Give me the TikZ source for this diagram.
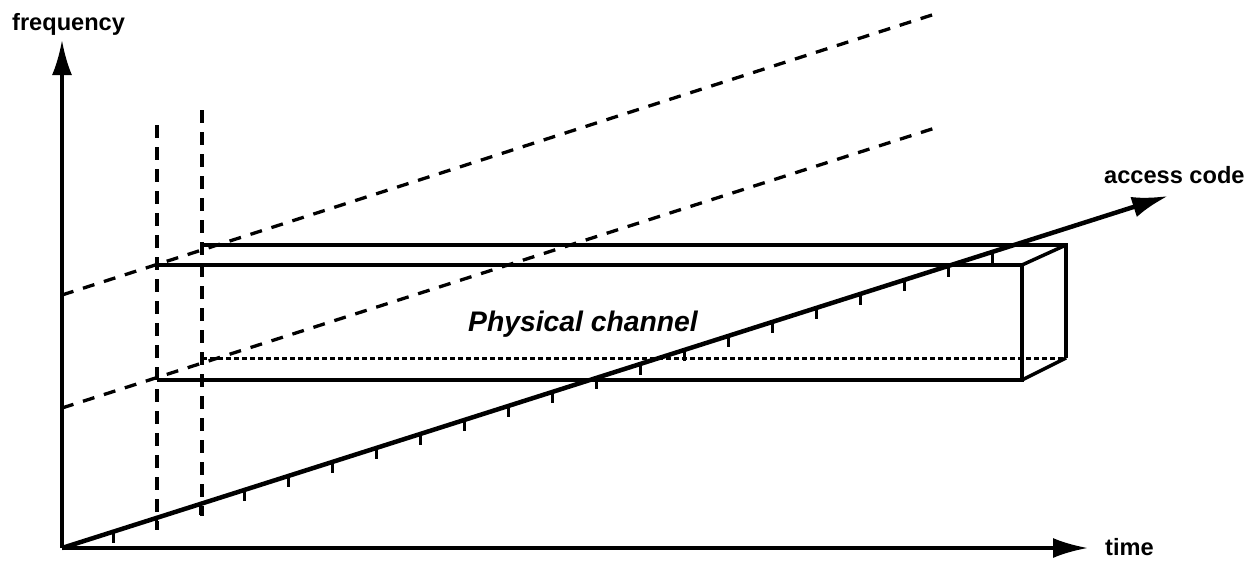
\documentclass[tikz,border=0pt]{standalone}
\usepackage{fontspec}
\setmainfont{Liberation Sans}
\usetikzlibrary{arrows.meta}
\begin{document}
\begin{tikzpicture}[x=1pt,y=-1pt,
  axis/.style={line width=3.5pt,-{Latex[length=35pt,width=20pt]}},
  codeaxis/.style={line width=4.5pt,-{Latex[length=36pt,width=21pt]}},
  boxline/.style={line width=3.5pt,line join=miter},
  hidden/.style={line width=3pt,dash pattern=on 5pt off 3pt},
  guide/.style={line width=3.3pt,dash pattern=on 12pt off 10pt},
  vguide/.style={line width=3.3pt,dash pattern=on 13pt off 9pt},
  tick/.style={line width=3pt},
  lbl/.style={inner sep=0pt,anchor=base west,font=\fontsize{23.6}{24}\selectfont\bfseries}]
\useasboundingbox (0,0) rectangle (1254,565);
% axes points
\coordinate (O) at (62,548);
\coordinate (F) at (62,40);
\coordinate (T) at (1088,548);
\coordinate (A) at (1168,196);
% guide lines
\coordinate (g1s) at (62,295);
\coordinate (g1e) at (935,14);
\coordinate (g2s) at (62,408);
\coordinate (g2e) at (935,128);
\coordinate (v1s) at (157,125);
\coordinate (v1e) at (157,530);
\coordinate (v2s) at (202,110);
\coordinate (v2e) at (202,516);
% box corners
\coordinate (ftl) at (157,265);
\coordinate (ftr) at (1022,265);
\coordinate (fbl) at (157,380);
\coordinate (fbr) at (1022,380);
\coordinate (btl) at (202,245);
\coordinate (btr) at (1066,245);
\coordinate (bbl) at (202,358);
\coordinate (bbr) at (1066,358);

\draw[guide] (g1s) -- (g1e);
\draw[guide] (g2s) -- (g2e);
\draw[vguide] (v1s) -- (v1e);
\draw[vguide] (v2s) -- (v2e);

\draw[boxline] (ftl) -- (ftr) -- (fbr) -- (fbl);
\draw[boxline] (btl) -- (btr) -- (bbr);
\draw[boxline] (ftr) -- (btr);
\draw[boxline] (fbr) -- (bbr);
\draw[hidden] (bbl) -- (bbr);

% ticks on access code axis
\foreach \k in {0,...,20}{
  \pgfmathsetmacro{\tx}{113+43.95*\k}
  \pgfmathsetmacro{\ty}{548-(\tx-62)*0.31826}
  \draw[tick] (\tx,\ty) -- (\tx,\ty+11);
}

\draw[axis] (O) -- (F);
\draw[axis] (O) -- (T);
\draw[codeaxis] (O) -- (A);

\node[lbl] (freq) at (12,30) {frequency};
\node[lbl] (time) at (1105,555) {time};
\node[lbl] (acc) at (1104,183) {access code};
\node[inner sep=0pt,anchor=base west,font=\fontsize{28.3}{28}\selectfont\bfseries\itshape] (pc) at (468,331) {Physical channel};
\end{tikzpicture}
\end{document}
